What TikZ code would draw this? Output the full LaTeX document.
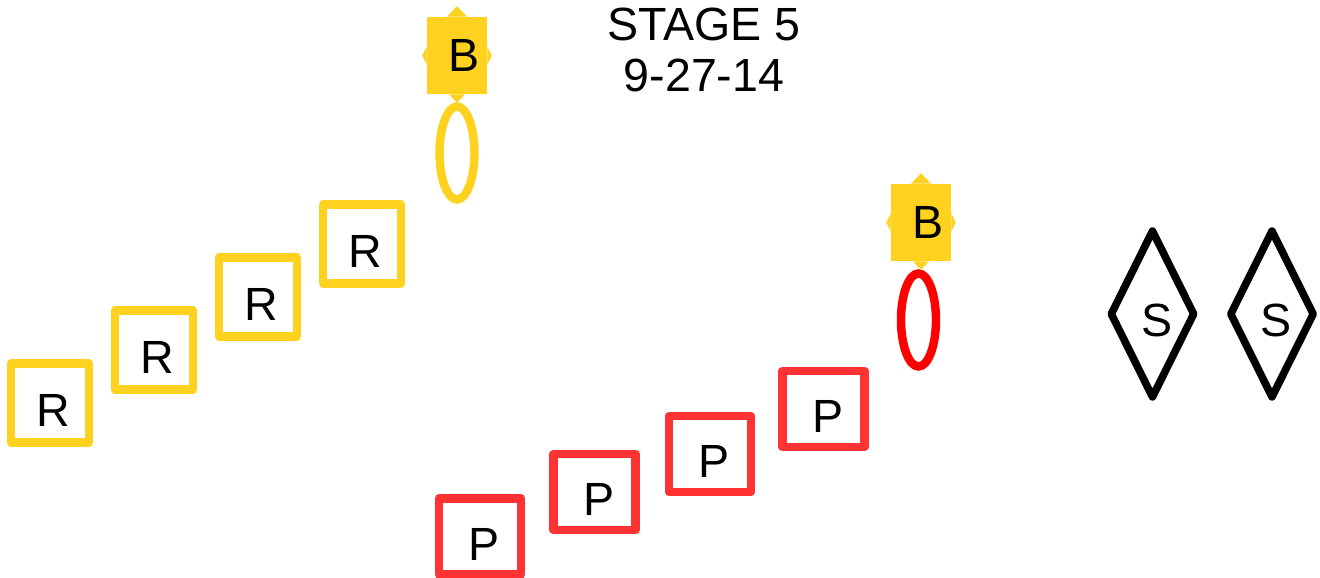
\documentclass[tikz,border=0pt]{standalone}
\usepackage{fontspec}
\setmainfont{Liberation Sans}
\usetikzlibrary{positioning,shapes.geometric}
\definecolor{seatyellow}{RGB}{255,210,31}
\definecolor{seatred}{RGB}{255,51,51}

\begin{document}
\begin{tikzpicture}[
  on grid,
  every node/.style={font=\fontsize{26.5}{29.5}\selectfont},
  rbox/.style={draw=seatyellow, line width=4.8pt, line join=round,
               minimum width=1.56cm, minimum height=1.58cm, inner sep=0pt,
               text height=27pt, text depth=0pt,
               execute at begin node={\hspace*{4pt}}},
  pbox/.style={draw=seatred, line width=4.8pt, line join=round,
               minimum width=1.64cm, minimum height=1.52cm, inner sep=0pt,
               text height=27pt, text depth=0pt,
               execute at begin node={\hspace*{5pt}}},
  bnode/.style={fill=seatyellow, minimum width=1.2cm, minimum height=1.54cm,
                inner sep=0pt, execute at begin node={\hspace*{8pt}}},
  ring/.style={ellipse, line width=4.8pt, minimum width=0.7cm,
               minimum height=1.86cm, inner sep=0pt},
  sdiam/.style={diamond, draw, line width=4.3pt, line join=round,
                minimum width=1.58cm, minimum height=3.38cm, inner sep=0pt,
                text height=26pt, text depth=0pt,
                execute at begin node={\hspace*{5pt}}}
]
  \useasboundingbox (0,0) rectangle (26.4,-11.56);

  % title
  \node[align=center] (title) at (14.08,-1.0) {STAGE 5\\9-27-14};

  % yellow row
  \node[rbox] (r1) at (1.00,-8.06) {R};
  \node[rbox, above right=1.06cm and 2.08cm of r1] (r2) {R};
  \node[rbox, above right=1.06cm and 2.08cm of r2] (r3) {R};
  \node[rbox, above right=1.06cm and 2.08cm of r3] (r4) {R};

  \node[bnode] (b1) at (9.14,-1.11) {B};
  \node[ring, draw=seatyellow, below=1.95cm of b1] (ring1) {};

  % red row
  \node[pbox] (p1) at (9.60,-10.73) {P};
  \node[pbox, above right=0.89cm and 2.29cm of p1] (p2) {P};
  \node[pbox, above right=0.76cm and 2.31cm of p2] (p3) {P};
  \node[pbox, above right=0.90cm and 2.27cm of p3] (p4) {P};

  \node[bnode] (b2) at (18.42,-4.45) {B};
  \node[ring, draw=red, below left=1.95cm and 0.05cm of b2] (ring2) {};

  % points on the B tags
  \foreach \b in {b1,b2} {
    \fill[seatyellow] (\b.north) ++(-0.2,0) -- ++(0.2,0.21) -- ++(0.2,-0.21) -- cycle;
    \fill[seatyellow] (\b.south) ++(-0.16,0) -- ++(0.16,-0.17) -- ++(0.16,0.17) -- cycle;
    \fill[seatyellow] (\b.west) ++(0,-0.18) -- ++(-0.09,0.18) -- ++(0.09,0.18) -- cycle;
    \fill[seatyellow] (\b.east) ++(0,-0.18) -- ++(0.09,0.18) -- ++(-0.09,0.18) -- cycle;
  }

  % S diamonds
  \node[sdiam] (s1) at (23.05,-6.28) {S};
  \node[sdiam, right=2.39cm of s1] (s2) {S};
\end{tikzpicture}
\end{document}
